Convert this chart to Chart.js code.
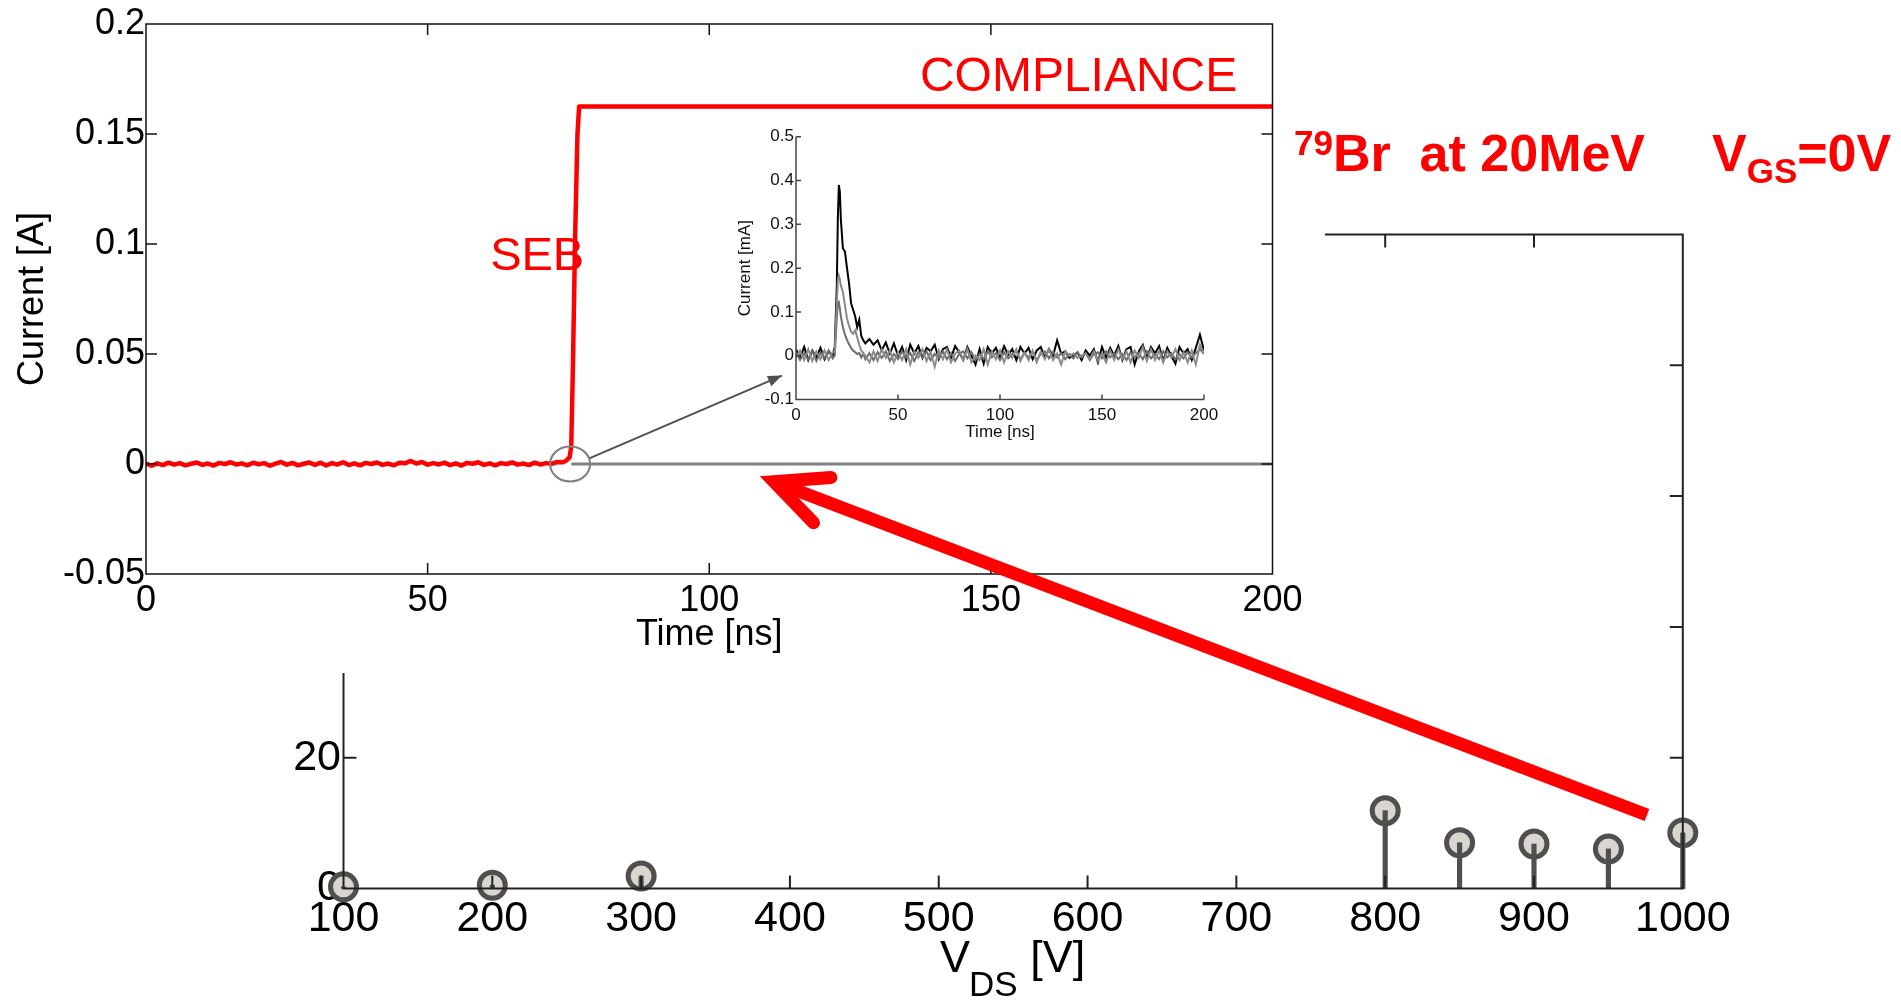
<!DOCTYPE html>
<html>
<head>
<meta charset="utf-8">
<script src="https://cdn.jsdelivr.net/npm/chart.js@4.4.0/dist/chart.umd.min.js"></script>
<style>
html, body { margin: 0; padding: 0; background: #fff; }
#wrap { position: relative; width: 1901px; height: 1003px; overflow: hidden; }
#wrap canvas { position: absolute; left: 0; top: 0; }
</style>
</head>
<body>
<div id="wrap">
  <canvas id="stemChart" width="1901" height="1003"></canvas>
  <canvas id="mainChart" width="1901" height="1003"></canvas>
  <canvas id="insetChart" width="1901" height="1003"></canvas>
</div>
<script>
const FONT = '"Liberation Sans", Arial, Helvetica, sans-serif';

// background stem plot: events vs drain voltage
const stemVds = [100, 200, 300, 800, 850, 900, 950, 1000];
const stemCount = [0.25, 0.5, 1.9, 11.9, 7.0, 6.8, 6.05, 8.5];

// main plot: SEB current transient [A] vs time [ns]
const redTime = [0, 1, 2, 3, 4, 5, 6, 7, 8, 9, 10, 11, 12, 13, 14, 15, 16, 17, 18, 19,
  20, 21, 22, 23, 24, 25, 26, 27, 28, 29, 30, 31, 32, 33, 34, 35, 36, 37, 38, 39,
  40, 41, 42, 43, 44, 45, 46, 47, 48, 49, 50, 51, 52, 53, 54, 55, 56, 57, 58, 59,
  60, 61, 62, 63, 64, 65, 66, 67, 68, 69, 70, 71, 72, 73, 74,
  74.6, 75.2, 75.5, 75.8, 76.2, 76.6, 76.9, 200];
const redCurrent = [0.0002, -0.0008, 0.0003, -0.0005, 0.0006, -0.0003, 0.0004, -0.0006, 0.0001, 0.0007,
  -0.0004, 0.0002, -0.0007, 0.0005, 0.0000, 0.0008, -0.0002, 0.0003, -0.0006, 0.0006,
  -0.0001, 0.0004, -0.0008, 0.0002, 0.0009, -0.0003, 0.0005, -0.0006, 0.0001, 0.0007,
  -0.0004, 0.0006, -0.0007, 0.0004, -0.0002, 0.0008, -0.0005, 0.0003, -0.0006, 0.0005,
  0.0000, 0.0007, -0.0004, 0.0002, -0.0006, 0.0006, 0.0003, 0.0014, 0.0002, 0.0009,
  -0.0003, 0.0004, -0.0002, 0.0006, -0.0005, 0.0003, -0.0007, 0.0005, 0.0001, 0.0008,
  -0.0004, 0.0003, -0.0006, 0.0004, 0.0000, 0.0007, -0.0003, 0.0002, -0.0005, 0.0006,
  -0.0002, 0.0004, 0.0001, 0.0009, 0.0008,
  0.0015, 0.003, 0.008, 0.045, 0.105, 0.15, 0.1625, 0.1625];
// gray zero reference line
const zeroTime = [75.5, 200];
const zeroCurrent = [0, 0];

// inset: single event transients [mA] vs time [ns]
const insetTime = [0, 2, 4, 6, 8, 10, 12, 14, 16, 18,
  19, 20, 20.5, 21, 21.5, 22, 23, 24, 25, 26, 27, 28, 29, 30, 31, 32, 33, 34,
  36, 38, 40, 42, 44, 46, 48, 50, 52, 54, 56, 58, 60, 62, 64, 66, 68, 70, 72, 74, 76, 78, 80, 82, 84, 86, 88, 90, 92, 94, 96, 98, 100,
  102, 104, 106, 108, 110, 112, 114, 116, 118, 120, 122, 124, 126, 128, 130, 132, 134, 136, 138, 140, 142, 144, 146, 148, 150,
  152, 154, 156, 158, 160, 162, 164, 166, 168, 170, 172, 174, 176, 178, 180, 182, 184, 186, 188, 190, 192, 194, 196, 198, 200];
const insetBlack = [0.015, -0.005, 0.02, -0.01, 0.012, -0.004, 0.018, -0.008, 0.01, 0.0,
  0.02, 0.16, 0.31, 0.39, 0.375, 0.31, 0.245, 0.238, 0.2, 0.165, 0.12, 0.105, 0.09, 0.065, 0.082, 0.045, 0.035, 0.028,
  0.038, 0.025, 0.035, 0.012, 0.03, 0.005, 0.028, 0.0, 0.02, -0.01, 0.025, 0.005, 0.022, -0.005, 0.018, 0.01, 0.025, -0.008, 0.015, 0.02, -0.005, 0.022, 0.008, -0.01, 0.02, 0.0, -0.02, 0.015, -0.018, 0.02, 0.005, 0.018, -0.005,
  0.022, 0.002, 0.015, -0.01, 0.02, 0.005, 0.018, -0.008, 0.012, 0.02, -0.005, 0.015, 0.0, 0.035, 0.005, 0.01, -0.005, 0.0, 0.008, -0.01, 0.012, 0.0, 0.015, -0.015, 0.02,
  -0.005, 0.018, 0.0, 0.022, -0.01, 0.015, 0.02, -0.02, 0.01, 0.025, -0.005, 0.02, 0.005, 0.022, -0.012, 0.018, 0.0, -0.018, 0.02, 0.005, 0.015, -0.01, 0.018, 0.048, 0.012];
const insetGray = [-0.005, 0.012, -0.01, 0.015, -0.012, 0.01, -0.008, 0.012, -0.01, 0.008,
  0.01, 0.12, 0.172, 0.183, 0.175, 0.16, 0.145, 0.115, 0.085, 0.068, 0.055, 0.05, 0.058, 0.042, 0.025, 0.012, 0.005, 0.0,
  -0.015, 0.01, -0.012, 0.015, -0.005, 0.012, -0.015, 0.008, -0.01, 0.015, -0.02, 0.01, -0.005, 0.015, -0.012, 0.008, -0.025, 0.012, -0.008, 0.015, -0.015, 0.005, 0.012, -0.01, 0.015, -0.015, 0.0, -0.01, 0.015, -0.02, 0.01, -0.008, 0.012,
  -0.015, 0.01, -0.005, 0.015, -0.012, 0.008, -0.01, 0.012, -0.015, 0.01, -0.008, 0.015, -0.01, 0.005, -0.02, 0.01, 0.0, 0.005, -0.005, 0.0, 0.005, -0.008, 0.01, -0.012, 0.005,
  -0.015, 0.012, -0.01, 0.015, -0.008, 0.01, -0.015, 0.012, -0.005, 0.02, -0.012, 0.015, -0.01, 0.012, -0.015, 0.01, -0.005, 0.015, -0.01, 0.008, -0.015, 0.012, -0.02, 0.025, 0.005];
const insetDark = [0.008, -0.01, 0.005, -0.008, 0.01, -0.012, 0.006, -0.005, 0.012, -0.006,
  0.0, 0.085, 0.118, 0.122, 0.108, 0.09, 0.065, 0.048, 0.036, 0.026, 0.018, 0.012, 0.008, 0.004, 0.006, -0.004, 0.005, -0.008,
  0.006, -0.01, 0.008, -0.005, 0.01, -0.012, 0.004, -0.008, 0.01, -0.005, 0.006, -0.012, 0.008, -0.004, 0.01, -0.01, 0.004, -0.006, 0.01, -0.008, 0.006, -0.012, 0.004, 0.01, -0.006, 0.008, -0.01, 0.004, -0.008, 0.01, -0.004, 0.006, -0.01,
  0.008, -0.006, 0.004, 0.01, -0.008, 0.006, -0.004, 0.008, -0.01, 0.004, 0.01, -0.006, 0.008, -0.004, 0.006, -0.008, 0.004, -0.006, 0.008, -0.004, 0.006, -0.01, 0.004, 0.008, -0.006,
  0.01, -0.004, 0.006, -0.008, 0.004, -0.01, 0.008, -0.004, 0.006, -0.008, 0.01, -0.006, 0.004, -0.008, 0.01, -0.004, 0.006, -0.008, 0.004, -0.006, 0.008, -0.004, 0.006, 0.015, 0.004];

function pts(xs, ys) {
  return xs.map((x, i) => ({ x: x, y: ys[i] }));
}

// axes box + inward ticks, matlab style
function drawFrame(chart, o) {
  const { ctx, chartArea: a } = chart;
  const x = chart.scales.x, y = chart.scales.y;
  ctx.save();
  ctx.strokeStyle = o.color;
  ctx.lineWidth = o.width;
  ctx.beginPath();
  if (o.box) {
    ctx.rect(a.left, a.top, a.right - a.left, a.bottom - a.top);
  } else {
    ctx.moveTo(a.left, a.top);
    ctx.lineTo(a.left, a.bottom);
    ctx.lineTo(a.right, a.bottom);
  }
  x.ticks.forEach(t => {
    const px = x.getPixelForValue(t.value);
    ctx.moveTo(px, a.bottom); ctx.lineTo(px, a.bottom - o.len);
    if (o.box) { ctx.moveTo(px, a.top); ctx.lineTo(px, a.top + o.len); }
  });
  y.ticks.forEach(t => {
    const py = y.getPixelForValue(t.value);
    ctx.moveTo(a.left, py); ctx.lineTo(a.left + o.len, py);
    if (o.box) { ctx.moveTo(a.right, py); ctx.lineTo(a.right - o.len, py); }
  });
  ctx.stroke();
  ctx.restore();
}

function arrowHead(x0, y0, x1, y1, len, spread) {
  const ang = Math.atan2(y0 - y1, x0 - x1);
  return [
    [x1 + len * Math.cos(ang + spread), y1 + len * Math.sin(ang + spread)],
    [x1 + len * Math.cos(ang - spread), y1 + len * Math.sin(ang - spread)]
  ];
}

// ---------- stem chart (bottom layer) ----------
const stemChart = new Chart(document.getElementById('stemChart'), {
  type: 'bar',
  data: {
    datasets: [
      {
        type: 'bar',
        data: pts(stemVds, stemCount),
        backgroundColor: '#4f4f4f',
        barThickness: 4.5,
        clip: false,
        order: 1
      },
      {
        type: 'scatter',
        data: pts(stemVds, stemCount),
        pointRadius: 13,
        pointBorderWidth: 5,
        pointBackgroundColor: '#d9d5cf',
        pointBorderColor: '#4f4f4f',
        clip: false,
        order: 2
      }
    ]
  },
  options: {
    responsive: false,
    animation: false,
    events: [],
    layout: { padding: { left: 243.5, top: 234.5, right: 218.2, bottom: 54.5 } },
    plugins: { legend: { display: false }, tooltip: { enabled: false } },
    scales: {
      x: {
        type: 'linear', min: 100, max: 1000, offset: false,
        afterFit: s => { s.height = 60; },
        grid: { display: false, drawTicks: false }, border: { display: false },
        ticks: {
          stepSize: 100, autoSkip: false, maxRotation: 0, padding: 5, color: '#000', font: { family: FONT, size: 43 },
          callback: v => String(v)
        }
      },
      y: {
        type: 'linear', min: 0, max: 100,
        afterFit: s => { s.width = 100; },
        grid: { display: false, drawTicks: false }, border: { display: false },
        ticks: { stepSize: 20, autoSkip: false, padding: 2.5, color: '#000', font: { family: FONT, size: 43 } }
      }
    }
  },
  plugins: [{
    id: 'stemDeco',
    afterDraw(c) {
      drawFrame(c, { color: '#222', width: 2, len: 13, box: true });
      const ctx = c.ctx, a = c.chartArea;
      const base = a.bottom + 83.5;
      const big = '45px ' + FONT, small = '35px ' + FONT;
      ctx.save();
      ctx.fillStyle = '#000';
      ctx.textBaseline = 'alphabetic';
      ctx.font = big; const wV = ctx.measureText('V').width; const wU = ctx.measureText(' [V]').width;
      ctx.font = small; const wS = ctx.measureText('DS').width;
      let x = (a.left + a.right) / 2 - (wV + wS + wU) / 2;
      ctx.font = big; ctx.fillText('V', x, base); x += wV - 1;
      ctx.font = small; ctx.fillText('DS', x, base + 24); x += wS;
      ctx.font = big; ctx.fillText(' [V]', x, base);
      ctx.restore();
    }
  }]
});

// ---------- main current plot ----------
const mainChart = new Chart(document.getElementById('mainChart'), {
  type: 'line',
  data: {
    datasets: [
      { data: pts(redTime, redCurrent), borderColor: '#ff0000', borderWidth: 4.5, pointRadius: 0, borderJoinStyle: 'round', borderCapStyle: 'round' },
      { data: pts(zeroTime, zeroCurrent), borderColor: '#808080', borderWidth: 3, pointRadius: 0 }
    ]
  },
  options: {
    responsive: false,
    animation: false,
    events: [],
    layout: { padding: { left: 0, top: 24, right: 628.5, bottom: 339 } },
    plugins: { legend: { display: false }, tooltip: { enabled: false } },
    scales: {
      x: {
        type: 'linear', min: 0, max: 200,
        afterFit: s => { s.height = 90; },
        grid: { display: false, drawTicks: false }, border: { display: false },
        ticks: { stepSize: 50, autoSkip: false, maxRotation: 0, padding: 5.4, color: '#000', font: { family: FONT, size: 36 } },
        title: { display: true, text: 'Time [ns]', color: '#000', font: { family: FONT, size: 36 }, padding: { top: 0, bottom: 7 } }
      },
      y: {
        type: 'linear', min: -0.05, max: 0.2,
        afterFit: s => { s.width = 146; },
        grid: { display: false, drawTicks: false }, border: { display: false },
        ticks: {
          stepSize: 0.05, autoSkip: false, padding: 1, color: '#000', font: { family: FONT, size: 36 },
          callback: v => String(Math.round(v * 100) / 100)
        },
        title: { display: true, text: 'Current [A]', color: '#000', font: { family: FONT, size: 36 }, padding: { top: 11, bottom: 0 } }
      }
    }
  },
  plugins: [{
    id: 'mainDeco',
    beforeDraw(c) {
      // white figure background hides the plot behind it
      c.ctx.save();
      c.ctx.fillStyle = '#fff';
      c.ctx.fillRect(0, 0, 1325, 673);
      c.ctx.restore();
    },
    afterDatasetsDraw(c) {
      const ctx = c.ctx, x = c.scales.x, y = c.scales.y;
      drawFrame(c, { color: '#111', width: 1.5, len: 11, box: true });
      ctx.save();
      ctx.fillStyle = '#ff0000';
      ctx.textBaseline = 'alphabetic';
      ctx.font = '47px ' + FONT;
      ctx.fillText('SEB', x.getPixelForValue(61.1), y.getPixelForValue(0.0881));
      ctx.font = '48px ' + FONT;
      ctx.fillText('COMPLIANCE', x.getPixelForValue(137.4), y.getPixelForValue(0.1694));
      // zoom circle
      ctx.strokeStyle = '#808080';
      ctx.lineWidth = 2;
      ctx.beginPath();
      ctx.ellipse(x.getPixelForValue(75.3), y.getPixelForValue(0), 20, 17.5, 0, 0, Math.PI * 2);
      ctx.stroke();
      // pointer to inset
      const x0 = x.getPixelForValue(78.8), y0 = y.getPixelForValue(0.0027);
      const x1 = x.getPixelForValue(112.9), y1 = y.getPixelForValue(0.0402);
      ctx.strokeStyle = '#505050';
      ctx.fillStyle = '#505050';
      ctx.beginPath();
      ctx.moveTo(x0, y0); ctx.lineTo(x1, y1);
      ctx.stroke();
      const h = arrowHead(x0, y0, x1, y1, 15, 0.38);
      ctx.beginPath();
      ctx.moveTo(x1, y1); ctx.lineTo(h[0][0], h[0][1]); ctx.lineTo(h[1][0], h[1][1]); ctx.closePath();
      ctx.fill();
      ctx.restore();
    }
  }]
});

// ---------- inset plot (top layer) ----------
const insetChart = new Chart(document.getElementById('insetChart'), {
  type: 'line',
  data: {
    datasets: [
      { data: pts(insetTime, insetGray), borderColor: '#8a8a8a', borderWidth: 2, pointRadius: 0 },
      { data: pts(insetTime, insetDark), borderColor: '#6e6e6e', borderWidth: 2, pointRadius: 0 },
      { data: pts(insetTime, insetBlack), borderColor: '#000000', borderWidth: 2, pointRadius: 0 }
    ]
  },
  options: {
    responsive: false,
    animation: false,
    events: [],
    layout: { padding: { left: 726, top: 136.8, right: 697, bottom: 558.5 } },
    plugins: { legend: { display: false }, tooltip: { enabled: false } },
    scales: {
      x: {
        type: 'linear', min: 0, max: 200,
        afterFit: s => { s.height = 45; },
        grid: { display: false, drawTicks: false }, border: { display: false },
        ticks: { stepSize: 50, autoSkip: false, maxRotation: 0, padding: 5.6, color: '#111', font: { family: FONT, size: 17 } },
        title: { display: true, text: 'Time [ns]', color: '#111', font: { family: FONT, size: 17 }, padding: { top: 0, bottom: 2 } }
      },
      y: {
        type: 'linear', min: -0.1, max: 0.5,
        afterFit: s => { s.width = 70; },
        grid: { display: false, drawTicks: false }, border: { display: false },
        ticks: {
          stepSize: 0.1, autoSkip: false, padding: 2, color: '#111', font: { family: FONT, size: 17 },
          callback: v => String(Math.round(v * 10) / 10)
        },
        title: { display: true, text: 'Current [mA]', color: '#111', font: { family: FONT, size: 17 }, padding: { top: 9.6, bottom: 0 } }
      }
    }
  },
  plugins: [{
    id: 'overlay',
    afterDraw(c) {
      drawFrame(c, { color: '#444', width: 1.5, len: 5, box: false });
      const ctx = c.ctx;
      // big red arrow, placed in the V_DS plot coordinates
      const sx = stemChart.scales.x, sy = stemChart.scales.y;
      const tx = sx.getPixelForValue(975.9), ty = sy.getPixelForValue(11.24);
      const hx = sx.getPixelForValue(389.3), hy = sy.getPixelForValue(62.2);
      ctx.save();
      ctx.strokeStyle = '#ff0000';
      ctx.lineWidth = 13;
      ctx.lineCap = 'butt';
      ctx.beginPath();
      ctx.moveTo(tx, ty); ctx.lineTo(hx, hy);
      ctx.stroke();
      const h = arrowHead(tx, ty, hx, hy, 57, 0.44);
      ctx.lineCap = 'round';
      ctx.lineJoin = 'miter';
      ctx.beginPath();
      ctx.moveTo(h[0][0], h[0][1]); ctx.lineTo(hx, hy); ctx.lineTo(h[1][0], h[1][1]);
      ctx.stroke();

      // ion / bias label
      ctx.fillStyle = '#ff0000';
      ctx.textBaseline = 'alphabetic';
      const big = 'bold 52px ' + FONT, small = 'bold 35px ' + FONT;
      let x = 1294;
      ctx.font = small; ctx.fillText('79', x, 155); x += ctx.measureText('79').width;
      ctx.font = big; ctx.fillText('Br  at 20MeV', x, 170.7);
      x = 1712;
      ctx.fillText('V', x, 170.7); x += ctx.measureText('V').width;
      ctx.font = small; ctx.fillText('GS', x, 183); x += ctx.measureText('GS').width;
      ctx.font = big; ctx.fillText('=0V', x, 170.7);
      ctx.restore();
    }
  }]
});
</script>
</body>
</html>
